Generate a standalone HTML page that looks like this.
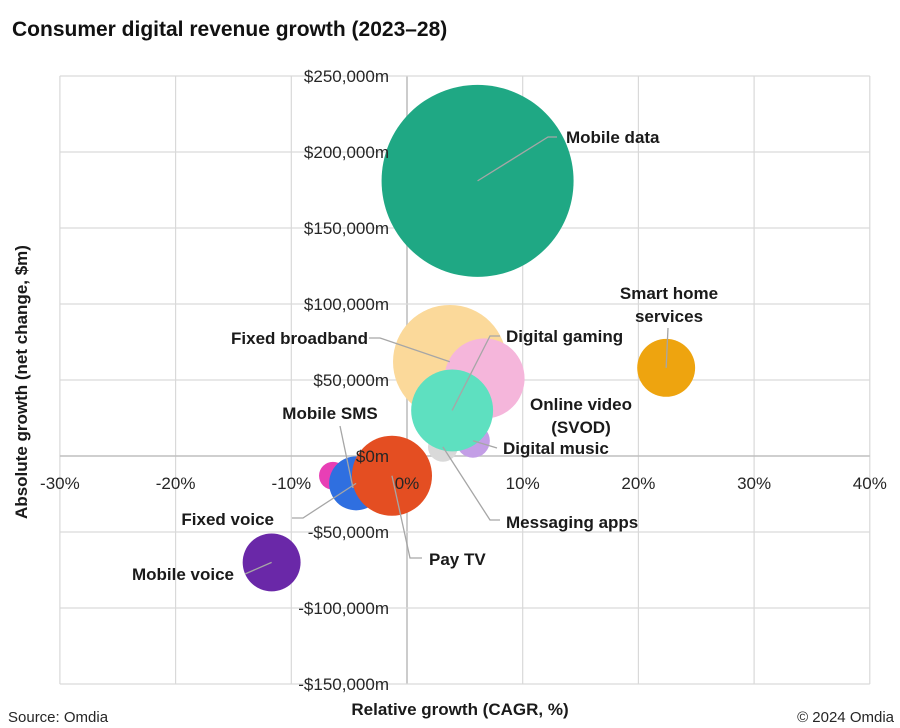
<!DOCTYPE html>
<html><head><meta charset="utf-8"><style>
body{margin:0;background:#fff;}
svg{display:block;font-family:"Liberation Sans",sans-serif;}
.t{font-size:17px;fill:#262626;}
.b{font-size:17px;font-weight:bold;fill:#1a1a1a;}
.ld{stroke:#a6a6a6;stroke-width:1.3;fill:none;}
</style></head><body>
<svg id="c" width="900" height="728">
<text x="12" y="36" style="font-size:21px;font-weight:bold;fill:#111">Consumer digital revenue growth (2023–28)</text>
<g id="grid"></g><g id="bubbles"></g><g id="leaders"></g><g id="labels"></g><g id="ticks"></g>
<text x="27" y="382" transform="rotate(-90 27 382)" text-anchor="middle" class="b" style="font-size:17px">Absolute growth (net change, $m)</text>
<text x="460" y="715" text-anchor="middle" class="b" style="font-size:17px">Relative growth (CAGR, %)</text>
<text x="8" y="722" class="t" style="font-size:15px">Source: Omdia</text>
<text x="894" y="722" text-anchor="end" class="t" style="font-size:15px">© 2024 Omdia</text>
</svg>
<script>
const names=["Mobile data","Fixed broadband","Online video (SVOD)","Digital music","Messaging apps","Digital gaming","Smart home services","Mobile SMS","Fixed voice","Pay TV","Mobile voice"];
const cagr=[6.1,3.7,6.7,5.7,3.1,3.9,22.4,-6.4,-4.4,-1.3,-11.7];
const absGrowth=[181000,62000,51000,10000,6000,30000,58000,-13000,-18000,-13000,-70000];
const sizes=[100,35,17.4,3.1,2.4,18.2,9.1,2.1,7.9,17.4,9.1];
const colors=["#1fa884","#fbd99a","#f5b6db","#c39ee6","#d9d9d9","#5ee0c0","#eea40f","#e83fb5","#2f6fe0","#e44e22","#6a28a8"];
const xTicks=[-30,-20,-10,0,10,20,30,40];
const yTicks=[250000,200000,150000,100000,50000,0,-50000,-100000,-150000];
const xs=v=>407+v*11.57;
const ys=v=>456-v*76/50000;
const rs=s=>96*Math.sqrt(s/100);
const NS="http://www.w3.org/2000/svg";
function mk(p,tag,at){const e=document.createElementNS(NS,tag);for(const k in at)e.setAttribute(k,at[k]);p.appendChild(e);return e;}
const grid=document.getElementById('grid'),ticks=document.getElementById('ticks');
xTicks.forEach(t=>{const l=mk(grid,'line',{x1:xs(t),x2:xs(t),y1:ys(250000),y2:ys(-150000),stroke:t===0?'#bfbfbf':'#d9d9d9','stroke-width':t===0?1.6:1.2});


const tx=mk(ticks,'text',{x:xs(t),y:489,'text-anchor':'middle',class:'t'});tx.textContent=t+'%';

});
yTicks.forEach(t=>{const l=mk(grid,'line',{x1:xs(-30),x2:xs(40),y1:ys(t),y2:ys(t),stroke:t===0?'#bfbfbf':'#d9d9d9','stroke-width':t===0?1.6:1.2});


const s=(t<0?'-$':'$')+Math.abs(t).toLocaleString('en-US')+'m';
const tx=mk(ticks,'text',{x:389,y:ys(t)+6,'text-anchor':'end',class:'t'});tx.textContent=s;

});
const bg=document.getElementById('bubbles');
const order=[0,1,2,3,4,5,6,7,8,9,10];
order.forEach(i=>{const c=mk(bg,'circle',{cx:xs(cagr[i]),cy:ys(absGrowth[i]),r:rs(sizes[i]),fill:colors[i]});

});
const ann=[
[["Mobile data"],566,143,'start',[[548,137],[557,137]]],
[["Fixed broadband"],368,344,'end',[[380,338],[369,338]]],
[["Online video","(SVOD)"],581,410,'middle',null],
[["Digital music"],503,454,'start',[[497,448]]],
[["Messaging apps"],506,528,'start',[[490,520],[500,520]]],
[["Digital gaming"],506,342,'start',[[490,336],[500,336]]],
[["Smart home","services"],669,299,'middle',[[668,328]]],
[["Mobile SMS"],330,419,'middle',[[340,426]]],
[["Fixed voice"],274,525,'end',[[303,518],[292,518]]],
[["Pay TV"],429,565,'start',[[410,558],[422,558]]],
[["Mobile voice"],234,580,'end',[[245,574]]]
];
const lg=document.getElementById('labels'),ldg=document.getElementById('leaders');
ann.forEach((a,i)=>{
 if(a[4]){let cx=xs(cagr[i]),cy=ys(absGrowth[i]);if(i===7){cx=353;cy=488;}
  const pts=[[cx,cy]].concat(a[4]).map(p=>p.join(',')).join(' ');
  const pl=mk(ldg,'polyline',{points:pts,class:'ld'});
  
  }
 a[0].forEach((s,j)=>{const t=mk(lg,'text',{x:a[1],y:a[2]+j*23,'text-anchor':a[3],class:'b',style:'font-size:17px'});t.textContent=s;
  
  });
});
</script>
</body></html>
